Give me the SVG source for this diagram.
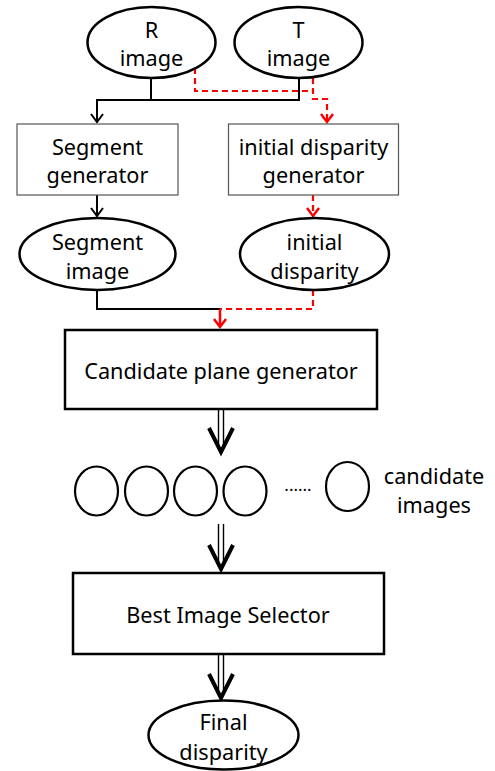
<svg xmlns="http://www.w3.org/2000/svg" width="495" height="771" viewBox="0 0 495 771">
<style>
text{font-family:"Noto Sans","Liberation Sans",sans-serif;font-size:21.7px;fill:#000;text-anchor:middle;dominant-baseline:central}
.el{fill:#fff;stroke:#000;stroke-width:2.5}
.bx{fill:#fff;stroke:#555;stroke-width:1.2}
.bx2{fill:#fff;stroke:#000;stroke-width:2.5}
.k{fill:none;stroke:#000;stroke-width:2}
.r{fill:none;stroke:#f00;stroke-width:2.2;stroke-dasharray:6 4}
.rh{fill:none;stroke:#f00;stroke-width:2.5}
.kh{fill:none;stroke:#000;stroke-width:2}
.dh{fill:none;stroke:#000;stroke-width:4;stroke-linejoin:miter}
.dl{fill:none;stroke:#000;stroke-width:1.4}
.c{fill:#fff;stroke:#000;stroke-width:2.2}
</style>
<rect width="495" height="771" fill="#fff"/>
<g id="connectors">
<path class="k" d="M151,78 V100 M299,78 V100 H97 V122"/>
<path class="kh" d="M91,114 L97,122 L103,114"/>
<path class="r" d="M195,68 V91 H313"/>
<path class="r" d="M313,78 V99 H327 V120"/>
<path class="rh" d="M321,114 L327,122 L333,114"/>
<path class="k" d="M97,195 V216"/>
<path class="kh" d="M91,208 L97,216 L103,208"/>
<path class="r" d="M313,195 V215"/>
<path class="rh" d="M307,208 L313,216 L319,208"/>
<path class="k" d="M97,290 V309 H221"/>
<path class="r" d="M313,290 V309 H220"/>
<path class="rh" d="M220,309 V326 M214,319 L220,327 L226,319"/>
<path class="dl" d="M218.5,409 V449 M223.5,409 V449"/>
<path class="dh" d="M209,428 L221,452 L233,428"/>
<path class="dl" d="M218.5,524 V566 M223.5,524 V566"/>
<path class="dh" d="M209,545 L221,569 L233,545"/>
<path class="dl" d="M218.5,654 V694 M223.5,654 V694"/>
<path class="dh" d="M209,674 L221,698 L233,674"/>
</g>
<g id="r-image"><ellipse class="el" cx="151.5" cy="42.5" rx="64" ry="35.5"/><text x="151.5" y="29">R</text><text x="151.5" y="57">image</text></g>
<g id="t-image"><ellipse class="el" cx="298.5" cy="42.5" rx="64" ry="35.5"/><text x="298.5" y="29">T</text><text x="298.5" y="57">image</text></g>
<g id="segment-generator"><rect class="bx" x="17" y="124" width="161" height="71"/><text x="97.5" y="146">Segment</text><text x="97.5" y="174">generator</text></g>
<g id="initial-disparity-generator"><rect class="bx" x="228.5" y="124" width="170" height="71"/><text x="313.5" y="146">initial disparity</text><text x="313.5" y="174">generator</text></g>
<g id="segment-image"><ellipse class="el" cx="97.5" cy="254" rx="78" ry="36"/><text x="97.5" y="241">Segment</text><text x="97.5" y="270">image</text></g>
<g id="initial-disparity"><ellipse class="el" cx="314.5" cy="254" rx="74.5" ry="36"/><text x="314.5" y="241">initial</text><text x="314.5" y="270">disparity</text></g>
<g id="candidate-plane-generator"><rect class="bx2" x="65" y="330" width="312" height="79"/><text x="221" y="370">Candidate plane generator</text></g>
<g id="candidate-images">
<ellipse class="c" cx="96.5" cy="491" rx="21.5" ry="24.5"/>
<ellipse class="c" cx="146.5" cy="491" rx="21.5" ry="24.5"/>
<ellipse class="c" cx="195.5" cy="491" rx="21.5" ry="24.5"/>
<ellipse class="c" cx="245" cy="491" rx="21.5" ry="24.5"/>
<text x="298" y="484" style="font-size:17px">......</text>
<ellipse class="c" cx="347.5" cy="486.5" rx="21.5" ry="24.5"/>
<text x="434" y="475">candidate</text><text x="434" y="504">images</text>
</g>
<g id="best-image-selector"><rect class="bx2" x="73" y="573" width="311" height="81"/><text x="228" y="614">Best Image Selector</text></g>
<g id="final-disparity"><ellipse class="el" cx="223.5" cy="735" rx="75" ry="34.5"/><text x="223.5" y="721">Final</text><text x="223.5" y="751">disparity</text></g>
</svg>
